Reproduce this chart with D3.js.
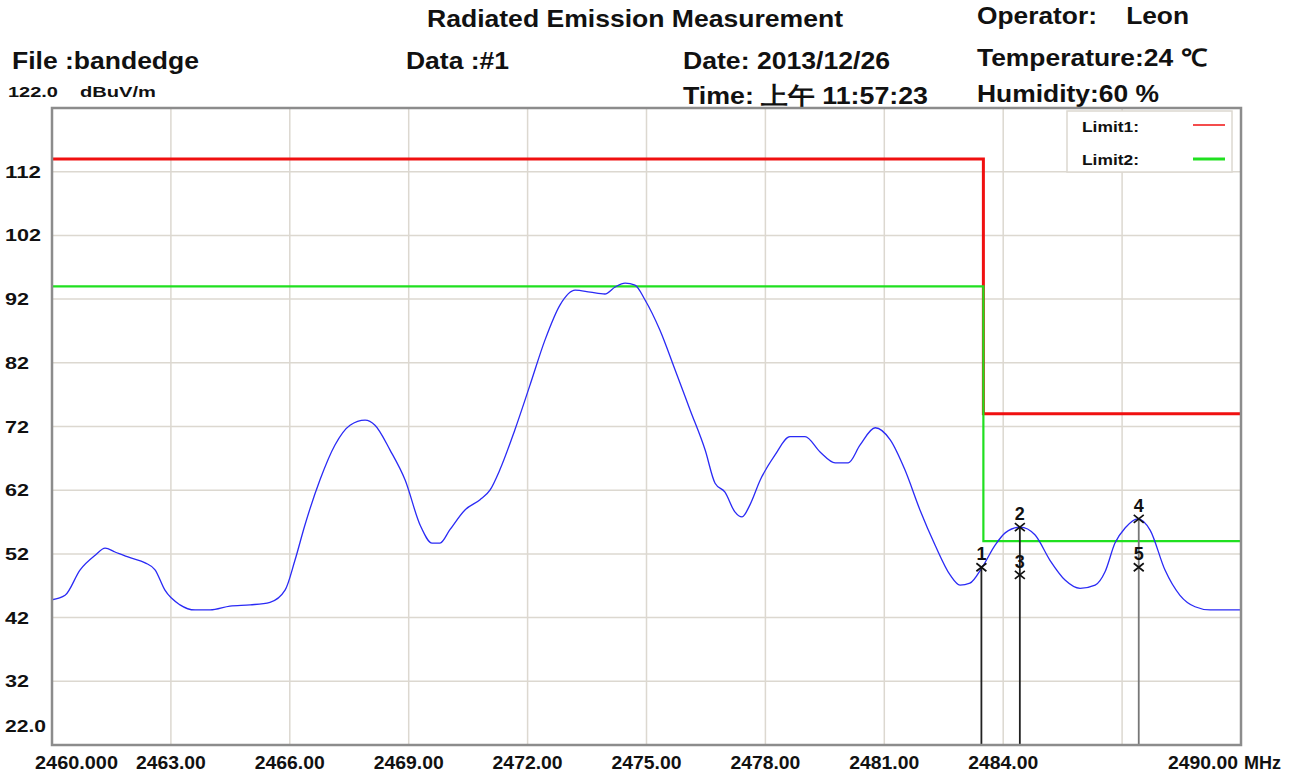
<!DOCTYPE html>
<html>
<head>
<meta charset="utf-8">
<script src="https://cdn.jsdelivr.net/npm/d3@7"></script>
<style>
  body { margin: 0; background: #fff; }
  svg text { font-family: "Liberation Sans", Arial, sans-serif; font-weight: bold; fill: #111; }
</style>
</head>
<body>
<svg width="1295" height="774"></svg>
<script>
// trace (MHz, dBuV/m)
var freq = [2460.00, 2460.33, 2460.71, 2461.09, 2461.34, 2461.59, 2461.97, 2462.35, 2462.60, 2462.85,
  2463.23, 2463.61, 2463.99, 2464.49, 2465.00, 2465.50, 2465.88, 2466.13, 2466.38, 2466.76,
  2467.14, 2467.52, 2467.90, 2468.15, 2468.53, 2468.91, 2469.29, 2469.59, 2469.79, 2470.04,
  2470.42, 2470.80, 2471.05, 2471.30, 2471.68, 2472.06, 2472.44, 2472.82, 2473.20, 2473.58,
  2473.95, 2474.21, 2474.46, 2474.71, 2474.96, 2475.34, 2475.72, 2476.10, 2476.48, 2476.73,
  2476.98, 2477.23, 2477.41, 2477.61, 2477.87, 2478.24, 2478.62, 2479.00, 2479.38, 2479.76,
  2480.09, 2480.39, 2480.77, 2481.15, 2481.52, 2481.90, 2482.28, 2482.66, 2482.91, 2483.16,
  2483.47, 2483.80, 2484.05, 2484.43, 2484.80, 2485.18, 2485.56, 2485.94, 2486.32, 2486.57,
  2486.82, 2487.08, 2487.40, 2487.71, 2488.08, 2488.46, 2488.84, 2489.22, 2489.60, 2489.98];
var level = [44.8, 45.5, 49.5, 51.8, 52.9, 52.3, 51.4, 50.6, 49.5, 46.3,
  44.0, 43.2, 43.2, 43.8, 44.0, 44.4, 46.3, 51.0, 56.5, 63.6,
  69.1, 72.2, 73.0, 72.2, 68.3, 63.6, 56.5, 53.7, 53.7, 55.8,
  58.9, 60.5, 62.0, 65.2, 71.5, 78.5, 85.6, 91.1, 93.4, 93.1,
  92.8, 93.9, 94.5, 94.2, 91.9, 87.1, 80.9, 74.6, 68.3, 63.1,
  61.7, 58.6, 57.8, 59.7, 63.6, 67.5, 70.4, 70.4, 68.0, 66.3,
  66.3, 69.1, 71.8, 69.9, 65.2, 58.9, 53.4, 48.7, 47.1, 47.4,
  49.9, 53.4, 55.3, 56.2, 55.0, 51.0, 47.9, 46.6, 47.1, 49.2,
  53.7, 56.1, 57.5, 55.7, 49.5, 45.5, 43.7, 43.2, 43.2, 43.2];

// limit lines as steps: [freq, level]
var limit1 = [[2460, 114], [2483.5, 114], [2483.5, 74], [2490, 74]];
var limit2 = [[2460, 94], [2483.5, 94], [2483.5, 54], [2490, 54]];

var markerNo = ["1", "2", "3", "4", "5"];
var markerFreq = [2483.45, 2484.42, 2484.42, 2487.42, 2487.42];
var markerLevel = [49.9, 56.2, 48.7, 57.5, 49.9];

var yTicks = [112, 102, 92, 82, 72, 62, 52, 42, 32];
var xTicks = [2463, 2466, 2469, 2472, 2475, 2478, 2481, 2484, 2487];
var xLabels = ["2463.00", "2466.00", "2469.00", "2472.00", "2475.00", "2478.00", "2481.00", "2484.00"];

var svg = d3.select("svg");
var pl = 52, pr = 1241, pt = 108, pb = 745;

var x = d3.scaleLinear().domain([2460, 2490]).range([pl, pr]);
var y = d3.scaleLinear().domain([22, 122]).range([pb, pt]);

// header texts: [text, x, baseline, width]
var header = [
  ["Radiated Emission Measurement", 427, 27, 416],
  ["Operator:    Leon", 977, 24, 212],
  ["File :bandedge", 12, 69, 187],
  ["Data :#1", 406, 69, 103],
  ["Date: 2013/12/26", 683, 69, 207],
  ["Temperature:24 \u2103", 977, 66, 230],
  ["Time: 上午 11:57:23", 683, 104, 245],
  ["Humidity:60 %", 977, 102, 182]
];
svg.append("g").selectAll("text").data(header).enter().append("text")
  .attr("xml:space", "preserve")
  .attr("font-size", 24)
  .attr("x", function(d) { return d[1]; }).attr("y", function(d) { return d[2]; })
  .attr("textLength", function(d) { return d[3]; }).attr("lengthAdjust", "spacingAndGlyphs")
  .text(function(d) { return d[0]; });

svg.append("text").attr("x", 8).attr("y", 97).attr("font-size", 14)
  .attr("textLength", 50).attr("lengthAdjust", "spacingAndGlyphs").text("122.0");
svg.append("text").attr("x", 80).attr("y", 97).attr("font-size", 14)
  .attr("textLength", 76).attr("lengthAdjust", "spacingAndGlyphs").text("dBuV/m");

// grid
var grid = svg.append("g").attr("stroke", "#dcd8d0").attr("stroke-width", 1.5);
grid.selectAll(".gy").data(yTicks).enter().append("line")
  .attr("x1", pl).attr("x2", pr)
  .attr("y1", function(d) { return y(d); }).attr("y2", function(d) { return y(d); });
grid.selectAll(".gx").data(xTicks).enter().append("line")
  .attr("y1", pt).attr("y2", pb)
  .attr("x1", function(d) { return x(d); }).attr("x2", function(d) { return x(d); });

// y labels
svg.append("g").attr("font-size", 17).selectAll("text").data(yTicks).enter().append("text")
  .attr("x", 5).attr("y", function(d) { return y(d) + 6; })
  .attr("textLength", function(d) { return String(d).length * 12; }).attr("lengthAdjust", "spacingAndGlyphs")
  .text(function(d) { return d; });
svg.append("text").attr("x", 5).attr("y", y(22) - 13).attr("font-size", 17)
  .attr("textLength", 41).attr("lengthAdjust", "spacingAndGlyphs").text("22.0");

// x labels
var xl = svg.append("g").attr("font-size", 19);
xl.selectAll("text").data(xLabels).enter().append("text")
  .attr("text-anchor", "middle")
  .attr("x", function(d) { return x(+d); }).attr("y", 769)
  .attr("textLength", 70).attr("lengthAdjust", "spacingAndGlyphs")
  .text(function(d) { return d; });
xl.append("text").attr("x", 35).attr("y", 769)
  .attr("textLength", 83).attr("lengthAdjust", "spacingAndGlyphs").text("2460.000");
xl.append("text").attr("x", 1168).attr("y", 769)
  .attr("textLength", 70).attr("lengthAdjust", "spacingAndGlyphs").text("2490.00");
xl.append("text").attr("x", 1244).attr("y", 769)
  .attr("textLength", 37).attr("lengthAdjust", "spacingAndGlyphs").text("MHz");

// limit lines
var stepLine = d3.line().x(function(d) { return x(d[0]); }).y(function(d) { return y(d[1]); });
svg.append("path").datum(limit1).attr("d", stepLine).attr("fill", "none").attr("stroke", "#f01010").attr("stroke-width", 3);
svg.append("path").datum(limit2).attr("d", stepLine).attr("fill", "none").attr("stroke", "#20e020").attr("stroke-width", 2.2);

// trace
var trace = d3.zip(freq, level);
svg.append("path").datum(trace)
  .attr("d", d3.line().x(function(d) { return x(d[0]); }).y(function(d) { return y(d[1]); }).curve(d3.curveMonotoneX))
  .attr("fill", "none").attr("stroke", "#2a2af5").attr("stroke-width", 1.3);

// markers
var markers = markerNo.map(function(n, i) { return { n: n, f: markerFreq[i], v: markerLevel[i] }; });
var mk = svg.append("g");
[0, 1, 3].forEach(function(i) {
  mk.append("line")
    .attr("x1", x(markerFreq[i])).attr("x2", x(markerFreq[i]))
    .attr("y1", y(markerLevel[i])).attr("y2", pb)
    .attr("stroke", i == 3 ? "#777" : "#222").attr("stroke-width", 1.8);
});
var mg = mk.selectAll(".m").data(markers).enter().append("g")
  .attr("transform", function(d) { return "translate(" + x(d.f) + "," + y(d.v) + ")"; });
mg.append("path").attr("d", "M-5,-4L5,4M5,-4L-5,4").attr("stroke", "#111").attr("stroke-width", 1.7);
mg.append("text").attr("text-anchor", "middle").attr("y", -7).attr("font-size", 18)
  .attr("textLength", 10).attr("lengthAdjust", "spacingAndGlyphs")
  .text(function(d) { return d.n; });

// frame
svg.append("rect").attr("x", pl).attr("y", pt).attr("width", pr - pl).attr("height", pb - pt)
  .attr("fill", "none").attr("stroke", "#8c8c8c").attr("stroke-width", 2.5);

// legend
var lg = svg.append("g").attr("transform", "translate(1067,111)");
lg.append("rect").attr("width", 165).attr("height", 61).attr("fill", "#fff").attr("stroke", "#dcd8d0").attr("stroke-width", 1.5);
var legendItems = [["Limit1:", "#f01010", 1.5], ["Limit2:", "#20e020", 3]];
legendItems.forEach(function(d, i) {
  lg.append("text").attr("x", 15).attr("y", 21 + i * 33).attr("font-size", 15)
    .attr("textLength", 57).attr("lengthAdjust", "spacingAndGlyphs").text(d[0]);
  lg.append("line").attr("x1", 126).attr("x2", 158).attr("y1", 14 + i * 34).attr("y2", 14 + i * 34)
    .attr("stroke", d[1]).attr("stroke-width", d[2]);
});
</script>
</body>
</html>
